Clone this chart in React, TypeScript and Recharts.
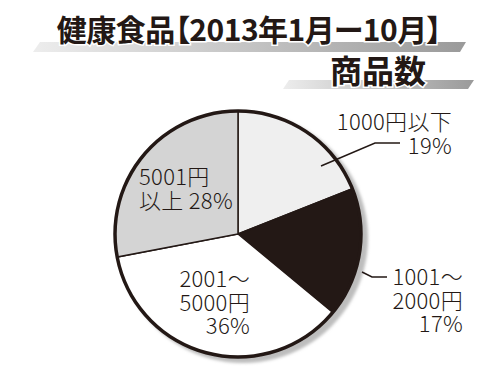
import React from 'react';
import { PieChart, Pie, Cell } from 'recharts';

const sliceNames = ['1000円以下', '1001～2000円', '2001～5000円', '5001円以上'];
const sliceShares = [19, 17, 36, 28];
const sliceFills = ['#efefef', '#231815', '#ffffff', '#d4d4d4'];
const labelRows = [
  ['1000円以下', `${sliceShares[0]}%`],
  ['1001～', '2000円', `${sliceShares[1]}%`],
  ['2001～', '5000円', `${sliceShares[2]}%`],
  ['5001円', `以上 ${sliceShares[3]}%`],
];

const data = sliceNames.map((name, i) => ({ name, value: sliceShares[i] }));
const ring = [{ name: 'ring', value: 100 }];

const ink = '#231815';
const font = '"Noto Sans CJK JP", "Noto Sans", sans-serif';

// label placement, relative to the pie centre
const labelLayout = [
  { x: 214, y: -104, anchor: 'end', leader: [[83, -68], [137, -91], [162, -91]] },
  { x: 225, y: 51, anchor: 'end', leader: [[124, 38], [134, 43], [149, 43]] },
  { x: 12, y: 53, anchor: 'end', leader: null },
  { x: -99, y: -49, anchor: 'start', leader: null },
];

const renderLabel = (props: any) => {
  const { cx, cy, index } = props;
  const l = labelLayout[index];
  const rows = labelRows[index];
  return (
    <g key={`label-${index}`}>
      {l.leader && (
        <polyline
          points={l.leader.map(([dx, dy]) => `${cx + dx},${cy + dy}`).join(' ')}
          fill="none"
          stroke={ink}
          strokeWidth={1.5}
        />
      )}
      <text
        x={cx + l.x}
        y={cy + l.y}
        textAnchor={l.anchor}
        fill={ink}
        fontSize={22}
        fontWeight={300}
        fontFamily={font}
        letterSpacing={0.3}
      >
        {rows.map((r, i) => (
          <tspan key={i} x={cx + l.x} dy={i === 0 ? 0 : 23.5}>
            {r}
          </tspan>
        ))}
      </text>
    </g>
  );
};

export default function App() {
  const cx = 238;
  const cy = 234;
  const r = 123;
  return (
    <div style={{ position: 'absolute', left: 0, top: 0, width: 500, height: 375, background: '#fff' }}>
      <PieChart width={500} height={375} margin={{ top: 0, right: 0, bottom: 0, left: 0 }}>
        <defs>
          <linearGradient id="strip" x1="0" y1="0" x2="1" y2="0">
            <stop offset="0%" stopColor="#ededed" />
            <stop offset="100%" stopColor="#9a9a9a" />
          </linearGradient>
          <filter id="soft" x="-10%" y="-10%" width="120%" height="120%">
            <feGaussianBlur stdDeviation="1.5" />
          </filter>
        </defs>
        <polygon points="33,52 40,42 466,42 460,52" fill="url(#strip)" />
        <polygon points="283,89 289,80 474,80 468,89" fill="url(#strip)" />
        <text
          x={249}
          y={41}
          textAnchor="middle"
          fontFamily={font}
          fontWeight={700}
          fontSize={30}
          letterSpacing={-0.5}
          fill={ink}
          stroke="#fff"
          strokeWidth={3}
          paintOrder="stroke"
          style={{ fontFeatureSettings: '"palt"' }}
        >
          健康食品【2013年1月ー10月】
        </text>
        <text
          x={378}
          y={83}
          textAnchor="middle"
          fontFamily={font}
          fontWeight={700}
          fontSize={32}
          fill={ink}
          stroke="#fff"
          strokeWidth={3}
          paintOrder="stroke"
        >
          商品数
        </text>
        <Pie
          data={ring}
          dataKey="value"
          cx={cx + 5}
          cy={cy + 4}
          outerRadius={r + 2}
          fill="#bdbdbd"
          stroke="none"
          style={{ filter: 'url(#soft)' }}
          isAnimationActive={false}
        />
        <Pie
          data={data}
          dataKey="value"
          cx={cx}
          cy={cy}
          outerRadius={r}
          startAngle={90}
          endAngle={-270}
          stroke={ink}
          strokeWidth={1.5}
          label={renderLabel}
          labelLine={false}
          isAnimationActive={false}
        >
          {data.map((entry, index) => (
            <Cell key={`cell-${index}`} fill={sliceFills[index]} />
          ))}
        </Pie>
        <Pie
          data={ring}
          dataKey="value"
          cx={cx}
          cy={cy}
          innerRadius={r - 1.75}
          outerRadius={r + 1.75}
          startAngle={90}
          endAngle={-270}
          fill={ink}
          stroke="none"
          isAnimationActive={false}
        />
      </PieChart>
    </div>
  );
}
